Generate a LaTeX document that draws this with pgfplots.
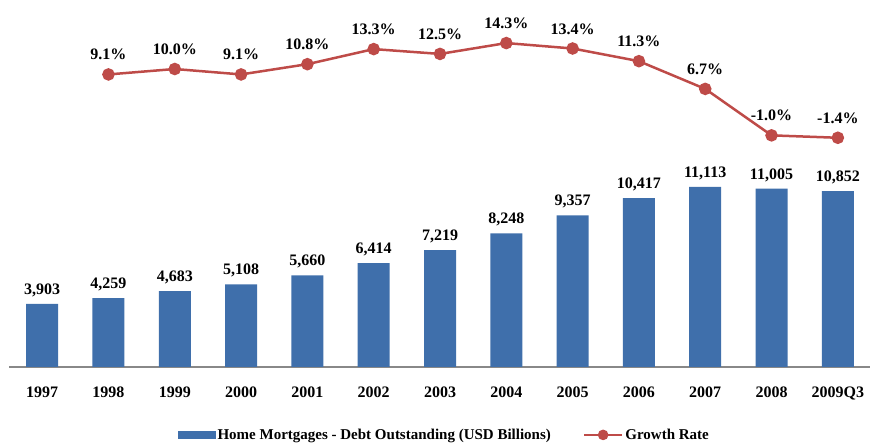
\documentclass[border=0pt]{standalone}
\usepackage{pgfplots}
\pgfplotsset{compat=1.18}
\usepackage{fontspec}
\setmainfont{Liberation Serif}
\definecolor{barblue}{HTML}{3F6FAB}
\definecolor{linered}{HTML}{BE4B48}
\definecolor{axisgray}{HTML}{888888}
\begin{document}
\begin{tikzpicture}[font=\fontsize{16}{19}\selectfont\bfseries]
\begin{axis}[
  at={(0pt,0pt)}, anchor=south west,
  scale only axis, width=862pt, height=367pt,
  xmin=-0.5, xmax=12.5, ymin=0, ymax=22655,
  ybar, bar width=32pt,
  axis x line*=bottom, hide y axis,
  x axis line style={axisgray, line width=2.5pt, -},
  xtick=data,
  xticklabels={1997,1998,1999,2000,2001,2002,2003,2004,2005,2006,2007,2008,2009Q3},
  major tick length=0pt,
  xticklabel style={yshift=-16pt},
  /pgf/number format/assume math mode=true,
  /pgf/number format/1000 sep={,},
  nodes near coords,
  nodes near coords style={anchor=south, inner sep=0pt, yshift=7pt, black},
  clip=false,
]
\addplot[fill=barblue, draw=none] coordinates {
(0,3903) (1,4259) (2,4683) (3,5108) (4,5660) (5,6414) (6,7219)
(7,8248) (8,9357) (9,10417) (10,11113) (11,11005) (12,10852)};
\end{axis}
\begin{axis}[
  at={(0pt,0pt)}, anchor=south west,
  scale only axis, width=862pt, height=367pt,
  xmin=-0.5, xmax=12.5, ymin=-39.4, ymax=21.44,
  hide axis, clip=false,
  /pgf/number format/assume math mode=true,
  /pgf/number format/fixed, /pgf/number format/fixed zerofill,
  /pgf/number format/precision=1,
  nodes near coords={\pgfmathprintnumber{\pgfplotspointmeta}\%},
  nodes near coords style={anchor=south, inner sep=0pt, yshift=13pt, black},
  legend style={at={(axis description cs:0.196,-0.185)}, anchor=west, draw=none,
    fill=none, inner sep=0pt, font=\fontsize{15}{17}\selectfont\bfseries,
    legend columns=2, /tikz/every even column/.append style={column sep=30pt}},
]
\addlegendimage{legend image code/.code={\fill[barblue] (0pt,-3.5pt) rectangle (37pt,3.5pt);}}
\addlegendentry{Home Mortgages - Debt Outstanding (USD Billions)}
\addplot[linered, line width=2.5pt, mark=*, mark size=5pt,
  legend image code/.code={\draw[linered, line width=2.5pt] (0pt,0pt) -- (38pt,0pt);
  \fill[linered] (19pt,0pt) circle (4pt);}]
coordinates {(1,9.1) (2,10.0) (3,9.1) (4,10.8) (5,13.3) (6,12.5) (7,14.3)
(8,13.4) (9,11.3) (10,6.7) (11,-1.0) (12,-1.4)};
\addlegendentry{Growth Rate}
\end{axis}
\pgfresetboundingbox
\useasboundingbox (-9pt,-77pt) rectangle (861pt,367pt);
\end{tikzpicture}
\end{document}
